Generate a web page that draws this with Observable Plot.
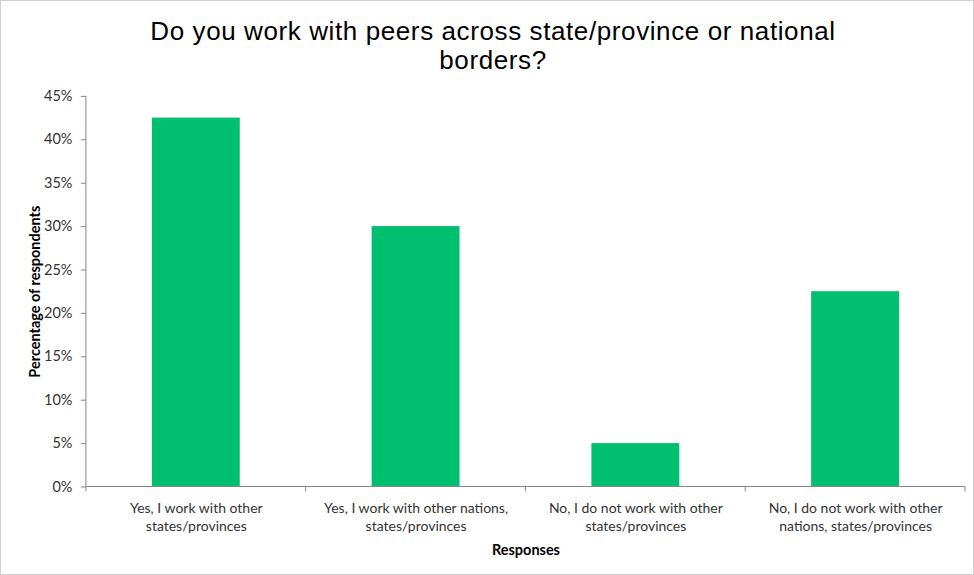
<!DOCTYPE html>
<html>
<head>
<meta charset="utf-8">
<script src="https://cdn.jsdelivr.net/npm/d3@7"></script>
<script src="https://cdn.jsdelivr.net/npm/@observablehq/plot@0.6"></script>
<style>
  html, body { margin: 0; padding: 0; background: #fff; }
  #wrap { position: relative; width: 974px; height: 575px; box-sizing: border-box; border: 1px solid #d0d0d0; overflow: hidden; }
  #title { position: absolute; left: 0; top: 16px; width: 984px; text-align: center; font-family: "Liberation Sans", Arial, sans-serif; font-size: 26px; line-height: 29px; letter-spacing: 0.6px; color: #000; }
  #chart { position: absolute; left: -1px; top: -1px; }
</style>
</head>
<body>
<div id="wrap">
  <div id="chart"></div>
  <div id="title">Do you work with peers across state/province or national<br>borders?</div>
</div>
<script>
const categories = [
  "Yes, I work with other\nstates/provinces",
  "Yes, I work with other nations,\nstates/provinces",
  "No, I do not work with other\nstates/provinces",
  "No, I do not work with other\nnations, states/provinces"
];
const values = [42.5, 30, 5, 22.5];
const yTicks = [0, 5, 10, 15, 20, 25, 30, 35, 40, 45];
const yLabel = "Percentage of respondents";
const xLabel = "Responses";

const data = categories.map((c, i) => ({category: c, value: values[i]}));
const axisColor = "#868686";
const font = "Lato, 'Open Sans', sans-serif";

function axisLines(index, scales, values, dims) {
  const x = scales.x, y = scales.y;
  const g = d3.create("svg:g");
  const bw = x.bandwidth();
  const step = x.step ? x.step() : bw / 0.4;
  const y0 = y(0);
  g.append("line").attr("x1", dims.marginLeft).attr("x2", dims.marginLeft)
    .attr("y1", y(45)).attr("y2", y0).attr("stroke", axisColor);
  g.append("line").attr("x1", dims.marginLeft).attr("x2", dims.width - dims.marginRight)
    .attr("y1", y0).attr("y2", y0).attr("stroke", axisColor);
  const bounds = categories.map(c => x(c) + bw / 2 - step / 2);
  bounds.push(x(categories[categories.length - 1]) + bw / 2 + step / 2);
  for (const b of bounds) {
    g.append("line").attr("x1", b).attr("x2", b).attr("y1", y0).attr("y2", y0 + 5).attr("stroke", axisColor);
  }
  return g.node();
}

const plot = Plot.plot({
  width: 974,
  height: 575,
  marginTop: 96,
  marginBottom: 88,
  marginLeft: 86,
  marginRight: 8,
  style: {fontFamily: font, background: "transparent"},
  x: {domain: categories, paddingInner: 0.6, paddingOuter: 0.3, label: null},
  y: {domain: [0, 45], label: null},
  marks: [
    Plot.barY(data, {x: "category", y: "value", fill: "#00BF6F"}),
    Plot.axisY({ticks: yTicks, tickFormat: d => d + "%", tickSize: 5, tickPadding: 9, stroke: axisColor, fill: "#333", fontSize: 14.5, label: null}),
    Plot.axisX({tickSize: 0, tickPadding: 14, fill: "#333", fontSize: 14, lineHeight: 1.25, label: null}),
    axisLines,
    Plot.text([yLabel], {frameAnchor: "left", textAnchor: "middle", rotate: -90, dx: -51, text: d => d, fontWeight: "bold", fontSize: 14.5, fill: "#000"}),
    Plot.text([xLabel], {frameAnchor: "bottom", dy: 68, text: d => d, fontWeight: "bold", fontSize: 14.5, fill: "#000"})
  ]
});
document.getElementById("chart").appendChild(plot);
</script>
</body>
</html>
